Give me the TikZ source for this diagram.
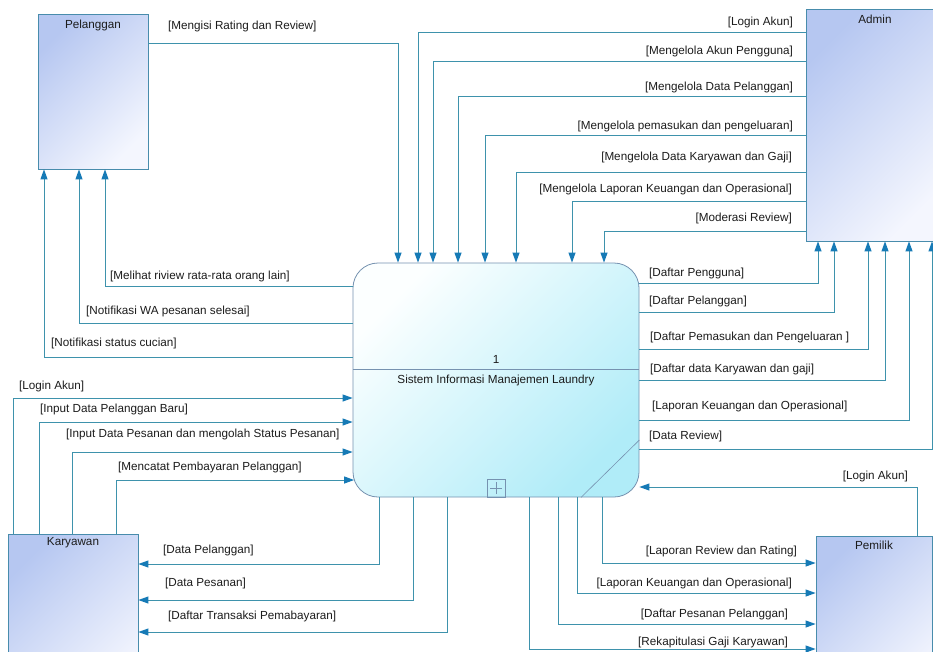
\documentclass[tikz,border=0pt]{standalone}
\usepackage{fontspec}
\setmainfont{Liberation Sans}
\usetikzlibrary{arrows.meta}
\definecolor{linec}{RGB}{62,146,172}
\definecolor{arrc}{RGB}{22,122,182}
\definecolor{entA}{RGB}{182,199,241}
\definecolor{entB}{RGB}{244,246,254}
\definecolor{entD}{RGB}{72,140,172}
\definecolor{procA}{RGB}{252,255,255}
\definecolor{procB}{RGB}{176,236,248}
\definecolor{procD}{RGB}{118,146,176}
\definecolor{txt}{RGB}{28,28,28}
\begin{document}
\begin{tikzpicture}[x=1pt,y=-1pt,
  font=\fontsize{11.7}{14}\selectfont,
  ent/.style={draw=entD, line width=0.8pt, rectangle, inner sep=0,
    top color=entA, bottom color=entB, shading angle=45},
  proc/.style={draw=procD, line width=0.8pt, rectangle, rounded corners=25pt, inner sep=0,
    top color=procA, bottom color=procB, shading angle=45},
  etext/.style={inner sep=0, text=txt},
  lbl/.style={inner sep=0, text=txt},
  flow/.style={draw=linec, line width=1pt, -{Triangle[length=10pt,width=7pt,color=arrc]}},
  deco/.style={draw=procD, line width=0.6pt}
]
\fill[white] (0,0) rectangle (933,651);
\useasboundingbox (0,0) rectangle (933,651);

% ---------- nodes ----------
\node[ent, minimum width=110pt, minimum height=155pt] (pel) at (93,91.5) {};
\node[etext] (pelT) at ([yshift=-12pt]pel.north) {Pelanggan};

\node[ent, minimum width=138pt, minimum height=232pt] (adm) at (875,125) {};
\node[etext] (admT) at ([yshift=-11pt]adm.north) {Admin};

\node[ent, minimum width=130pt, minimum height=170pt] (kar) at (73,619) {};
\node[etext] (karT) at ([yshift=-9pt]kar.north) {Karyawan};

\node[ent, minimum width=116pt, minimum height=170pt] (pem) at (874,621) {};
\node[etext] (pemT) at ([yshift=-10pt]pem.north) {Pemilik};

\node[proc, minimum width=286pt, minimum height=234pt] (proc) at (496,380) {};
\draw[deco, line width=0.8pt] (proc.west |- 0,369) -- (proc.east |- 0,369);
\node[etext] (procN) at (496,359) {1};
\node[etext] (procT) at (496,380) {Sistem Informasi Manajemen Laundry};
\draw[deco] (proc.south -| 581,0) -- (proc.east |- 0,440);
\node[deco, minimum size=18pt, inner sep=0, anchor=south] (plus) at (proc.south) {};
\draw[deco, line width=0.5pt] ([xshift=-6pt]plus.center) -- ([xshift=6pt]plus.center)
  ([yshift=-6pt]plus.center) -- ([yshift=6pt]plus.center);

% ---------- Pelanggan -> proses ----------
\draw[flow] (pel.east |- 0,43) -| (proc.north -| 398,0);
\node[lbl, anchor=west] (l01) at (168,26) {[Mengisi Rating dan Review]};

% ---------- Admin -> proses ----------
\draw[flow] (adm.west |- 0,32) -| (proc.north -| 418,0);
\draw[flow] (adm.west |- 0,61) -| (proc.north -| 433,0);
\draw[flow] (adm.west |- 0,96) -| (proc.north -| 458,0);
\draw[flow] (adm.west |- 0,135) -| (proc.north -| 485,0);
\draw[flow] (adm.west |- 0,172) -| (proc.north -| 516,0);
\draw[flow] (adm.west |- 0,201) -| (proc.north -| 572,0);
\draw[flow] (adm.west |- 0,231) -| (proc.north -| 604,0);
\node[lbl, anchor=east] (l02) at (793,22) {[Login Akun]};
\node[lbl, anchor=east] (l03) at (793,51) {[Mengelola Akun Pengguna]};
\node[lbl, anchor=east] (l04) at (793,87) {[Mengelola Data Pelanggan]};
\node[lbl, anchor=east] (l05) at (793,126) {[Mengelola pemasukan dan pengeluaran]};
\node[lbl, anchor=east] (l06) at (792,157) {[Mengelola Data Karyawan dan Gaji]};
\node[lbl, anchor=east] (l07) at (792,189) {[Mengelola Laporan Keuangan dan Operasional]};
\node[lbl, anchor=east] (l08) at (792,218) {[Moderasi Review]};

% ---------- proses -> Pelanggan ----------
\draw[flow] (proc.west |- 0,286) -| (pel.south -| 105,0);
\draw[flow] (proc.west |- 0,323) -| (pel.south -| 79,0);
\draw[flow] (proc.west |- 0,357) -| (pel.south -| 44,0);
\node[lbl, anchor=west] (l09) at (110,276) {[Melihat riview rata-rata orang lain]};
\node[lbl, anchor=west] (l10) at (86,311) {[Notifikasi WA pesanan selesai]};
\node[lbl, anchor=west] (l11) at (51,343) {[Notifikasi status cucian]};

% ---------- Karyawan -> proses ----------
\draw[flow] (kar.north -| 13,0) |- (proc.west |- 0,398);
\draw[flow] (kar.north -| 39,0) |- (proc.west |- 0,422);
\draw[flow] (kar.north -| 72,0) |- (proc.west |- 0,452);
\draw[flow] (kar.north -| 116,0) |- ([xshift=1.5pt]proc.west |- 0,480);
\node[lbl, anchor=west] (l12) at (19,386) {[Login Akun]};
\node[lbl, anchor=west] (l13) at (40,409) {[Input Data Pelanggan Baru]};
\node[lbl, anchor=west] (l14) at (66,434) {[Input Data Pesanan dan mengolah Status Pesanan]};
\node[lbl, anchor=west] (l15) at (118,467) {[Mencatat Pembayaran Pelanggan]};

% ---------- proses -> Karyawan ----------
\draw[flow] (proc.south -| 379,0) |- (kar.east |- 0,564);
\draw[flow] (proc.south -| 413,0) |- (kar.east |- 0,600);
\draw[flow] (proc.south -| 447,0) |- (kar.east |- 0,632);
\node[lbl, anchor=west] (l16) at (163,550) {[Data Pelanggan]};
\node[lbl, anchor=west] (l17) at (165,583) {[Data Pesanan]};
\node[lbl, anchor=west] (l18) at (168,616) {[Daftar Transaksi Pemabayaran]};

% ---------- proses -> Admin ----------
\draw[flow] (proc.east |- 0,283) -| (adm.south -| 818,0);
\draw[flow] (proc.east |- 0,312) -| (adm.south -| 834,0);
\draw[flow] (proc.east |- 0,349) -| (adm.south -| 868,0);
\draw[flow] (proc.east |- 0,380) -| (adm.south -| 885,0);
\draw[flow] (proc.east |- 0,420) -| (adm.south -| 909,0);
\draw[flow] (proc.east |- 0,449) -| (adm.south -| 932,0);
\node[lbl, anchor=west] (l19) at (649,273) {[Daftar Pengguna]};
\node[lbl, anchor=west] (l20) at (649,301) {[Daftar Pelanggan]};
\node[lbl, anchor=west] (l21) at (650,337) {[Daftar Pemasukan dan Pengeluaran ]};
\node[lbl, anchor=west] (l22) at (650,369) {[Daftar data Karyawan dan gaji]};
\node[lbl, anchor=west] (l23) at (652,406) {[Laporan Keuangan dan Operasional]};
\node[lbl, anchor=west] (l24) at (649,436) {[Data Review]};

% ---------- Pemilik <-> proses ----------
\draw[flow] (pem.north -| 917,0) |- (proc.east |- 0,487);
\node[lbl, anchor=east] (l25) at (908,476) {[Login Akun]};
\draw[flow] (proc.south -| 602,0) |- (pem.west |- 0,563);
\draw[flow] (proc.south -| 577,0) |- (pem.west |- 0,593);
\draw[flow] (proc.south -| 558,0) |- (pem.west |- 0,624);
\draw[flow] (proc.south -| 529,0) |- (pem.west |- 0,649);
\node[lbl, anchor=east] (l26) at (797,551) {[Laporan Review dan Rating]};
\node[lbl, anchor=east] (l27) at (792,583) {[Laporan Keuangan dan Operasional]};
\node[lbl, anchor=east] (l28) at (788,614) {[Daftar Pesanan Pelanggan]};
\node[lbl, anchor=east] (l29) at (788,642) {[Rekapitulasi Gaji Karyawan]};
\end{tikzpicture}
\end{document}
